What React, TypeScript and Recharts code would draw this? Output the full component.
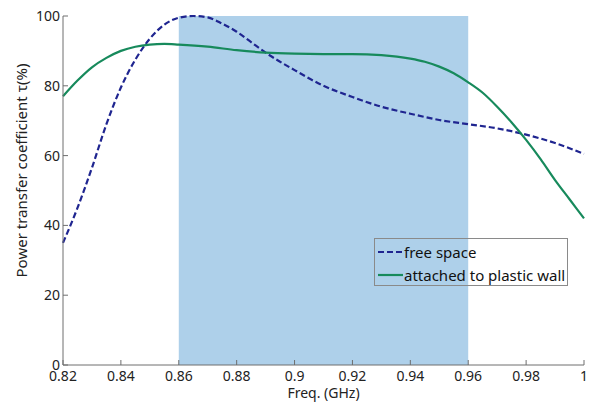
import {
  LineChart,
  Line,
  XAxis,
  YAxis,
  ReferenceArea,
  Legend,
} from "recharts";

const xTicks = [0.82, 0.84, 0.86, 0.88, 0.9, 0.92, 0.94, 0.96, 0.98, 1];
const yTicks = [0, 20, 40, 60, 80, 100];
const seriesNames = ["free space", "attached to plastic wall"];

const freeFreq = [
  0.82, 0.825, 0.83, 0.835, 0.84, 0.845, 0.85, 0.855, 0.86, 0.865, 0.87, 0.875,
  0.88, 0.885, 0.89, 0.9, 0.91, 0.92, 0.93, 0.94, 0.95, 0.96, 0.97, 0.98, 0.99, 1,
];
const freeVals = [
  35, 45, 56.5, 69, 79.5, 87.5, 93.5, 97.5, 99.5, 100, 99.6, 97.8, 95.5, 92.5,
  89.5, 84.5, 80, 76.8, 74, 72, 70.2, 69, 67.8, 66, 63.6, 60.5,
];

const wallFreq = [
  0.82, 0.825, 0.83, 0.835, 0.84, 0.845, 0.85, 0.855, 0.86, 0.87, 0.88, 0.89,
  0.9, 0.91, 0.92, 0.93, 0.94, 0.945, 0.95, 0.955, 0.96, 0.965, 0.97, 0.975,
  0.98, 0.985, 0.99, 0.995, 1,
];
const wallVals = [
  77, 81.5, 85.3, 88, 90, 91.2, 91.8, 92, 91.8, 91.2, 90.2, 89.5, 89.2, 89.1,
  89.1, 88.8, 87.8, 86.9, 85.5, 83.6, 81, 78, 74, 69.5, 64.5, 59, 53, 47.5, 42,
];

const freeData = freeFreq.map((f, i) => ({ f, v: freeVals[i] }));
const wallData = wallFreq.map((f, i) => ({ f, v: wallVals[i] }));

const font = "'Noto Sans', sans-serif";
const axisColor = "#6e6e6e";
const tickStyle = { fontSize: 14, fill: "#222", fontFamily: font };

const LegendBox = (props: any) => {
  const items = [...(props.payload || [])].sort(
    (a: any, b: any) => seriesNames.indexOf(a.value) - seriesNames.indexOf(b.value)
  );
  return (
    <div
      style={{
        border: "1px solid #8a8a8a",
        width: 194,
        height: 48,
        boxSizing: "border-box",
        fontFamily: font,
        fontSize: 15,
        color: "#111",
        padding: "1px 0 0 3px",
      }}
    >
      {items.map((it: any) => (
        <div key={it.value} style={{ display: "flex", alignItems: "center", height: 23 }}>
          <svg width={25} height={6} style={{ marginRight: 1 }}>
            <line
              x1={0}
              y1={3}
              x2={25}
              y2={3}
              stroke={it.color}
              strokeWidth={2.2}
              strokeDasharray={it.payload.strokeDasharray}
            />
          </svg>
          <span>{it.value}</span>
        </div>
      ))}
    </div>
  );
};

export default function App() {
  return (
    <div style={{ position: "absolute", left: 0, top: 0, background: "#fff" }}>
      <LineChart
        width={592}
        height={402}
        margin={{ top: 16, right: 8, bottom: 0, left: 0 }}
      >
        <ReferenceArea
          x1={0.86}
          x2={0.96}
          y1={0}
          y2={100}
          fill="#aed0ea"
          fillOpacity={1}
          stroke="none"
          ifOverflow="hidden"
        />
        <XAxis
          dataKey="f"
          type="number"
          domain={[0.82, 1]}
          ticks={xTicks}
          allowDuplicatedCategory={false}
          tickFormatter={(v: number) => String(Number(v.toFixed(2)))}
          tick={tickStyle}
          stroke={axisColor}
          tickSize={-5}
          tickMargin={11}
          height={37}
          label={{
            value: "Freq. (GHz)",
            position: "insideBottom",
            offset: 4,
            style: { fontSize: 14, fill: "#222", fontFamily: font },
          }}
        />
        <XAxis
          xAxisId="top"
          orientation="top"
          type="number"
          domain={[0.82, 1]}
          ticks={xTicks}
          tick={false}
          stroke={axisColor}
          tickSize={-5}
          height={0}
        />
        <YAxis
          type="number"
          domain={[0, 100]}
          ticks={yTicks}
          tick={tickStyle}
          stroke={axisColor}
          tickSize={-5}
          tickMargin={8}
          width={63}
          label={{
            value: "Power transfer coefficient τ(%)",
            angle: -90,
            position: "insideLeft",
            dx: 17,
            dy: -20,
            style: {
              fontSize: 15,
              fill: "#222",
              fontFamily: font,
              textAnchor: "middle",
            },
          }}
        />
        <YAxis
          yAxisId="right"
          orientation="right"
          type="number"
          domain={[0, 100]}
          ticks={yTicks}
          tick={false}
          stroke={axisColor}
          tickSize={-5}
          width={0}
        />
        <Line
          data={freeData}
          dataKey="v"
          name={seriesNames[0]}
          type="monotone"
          stroke="#1f2590"
          strokeWidth={2.2}
          strokeDasharray="6 3"
          dot={false}
          isAnimationActive={false}
        />
        <Line
          data={wallData}
          dataKey="v"
          name={seriesNames[1]}
          type="monotone"
          stroke="#178a5c"
          strokeWidth={2.2}
          dot={false}
          isAnimationActive={false}
        />
        <Legend
          content={<LegendBox />}
          layout="vertical"
          verticalAlign="middle"
          align="center"
          wrapperStyle={{ position: "absolute", left: 374, top: 238, width: 194 }}
        />
      </LineChart>
    </div>
  );
}
